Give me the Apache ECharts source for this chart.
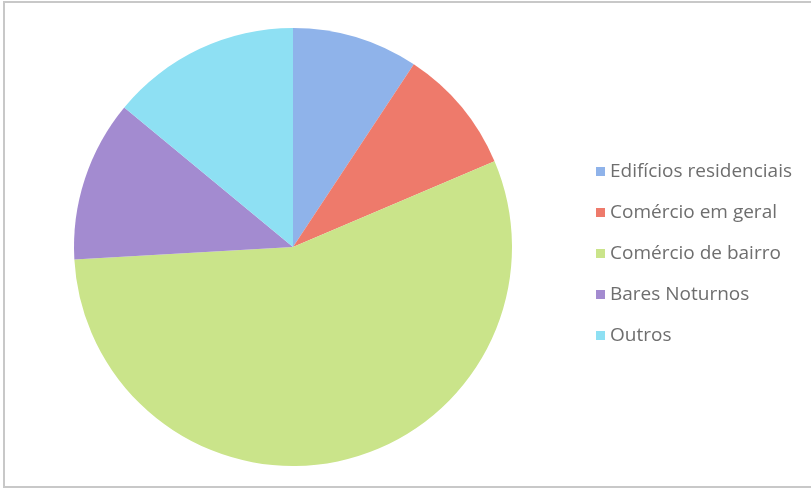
<!DOCTYPE html>
<html><head><meta charset="utf-8">
<script src="https://cdn.jsdelivr.net/npm/echarts@6/dist/echarts.min.js"></script>
<style>html,body{margin:0;padding:0;background:#fff}#c{width:811px;height:490px}</style>
</head><body><div id="c"></div>
<script>
const categories = ['Edifícios residenciais','Comércio em geral','Comércio de bairro','Bares Noturnos','Outros'];
const values = [9.3, 9.3, 55.5, 11.9, 14.0];
const colors = ['#8fb3ea','#ee7a6b','#cae48a','#a38bd0','#8ee0f3'];
const chart = echarts.init(document.getElementById('c'));
chart.setOption({
  animation:false,
  graphic:[{type:'rect',shape:{x:4,y:2,width:810,height:485},style:{fill:'none',stroke:'#c8c8c8',lineWidth:2}}],
  legend:{orient:'vertical',left:591,top:157,itemWidth:9,itemHeight:9,itemGap:22,icon:'rect',
    textStyle:{fontFamily:'Open Sans',fontSize:19,lineHeight:19,color:'#6e6e6e'},data:categories},
  series:[{type:'pie',center:[293,247],radius:219,startAngle:90,clockwise:true,
    label:{show:false},labelLine:{show:false},
    itemStyle:{borderWidth:0},
    emphasis:{disabled:true},
    data:categories.map((n,i)=>({name:n,value:values[i],itemStyle:{color:colors[i]}}))}]
});
</script></body></html>
